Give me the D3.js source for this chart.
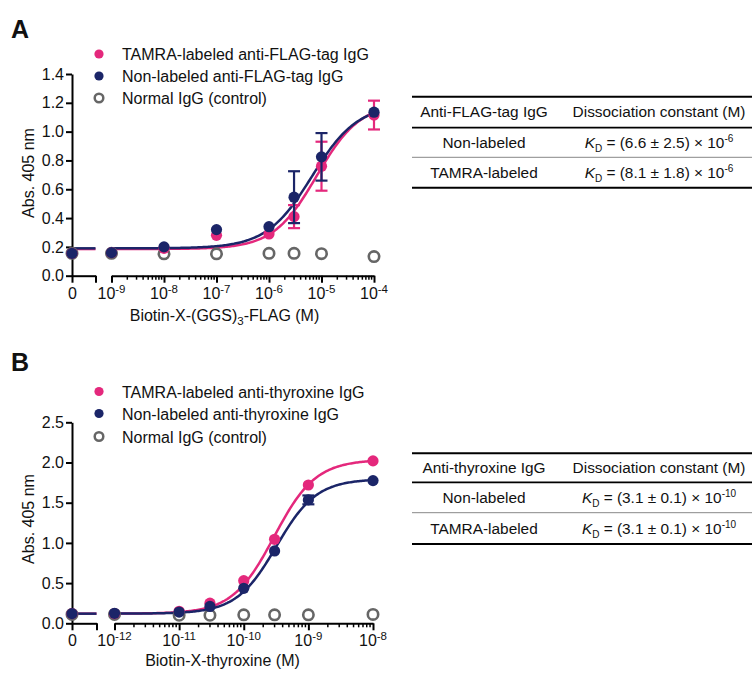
<!DOCTYPE html>
<html><head><meta charset="utf-8">
<script src="https://cdn.jsdelivr.net/npm/d3@7"></script>
<style>body{margin:0;background:#fff}svg{display:block}text{font-family:"Liberation Sans",Arial,sans-serif;fill:#111}</style>
</head><body><svg id="c" width="752" height="673"></svg>
<script>
// ---------- Panel A data ----------
const concA = [0, 1e-9, 1e-8, 1e-7, 1e-6, 3e-6, 1e-5, 1e-4];
const tamraA = [0.155, 0.16, 0.19, 0.28, 0.29, 0.41, 0.76, 1.115];
const tamraAErr = [0, 0, 0, 0, 0, 0.08, 0.17, 0.10];
const nonA = [0.155, 0.16, 0.20, 0.32, 0.34, 0.545, 0.825, 1.135];
const nonAErr = [0, 0, 0, 0, 0, 0.18, 0.165, 0];
const ctrlA = [0.155, 0.155, 0.152, 0.152, 0.155, 0.155, 0.153, 0.133];
// fitted curve parameters [bottom, top, EC50, hill]
const fitTamraA = [0.185, 1.20, 8.1e-6, 1.05];
const fitNonA = [0.19, 1.19, 6.6e-6, 1.0];
const yTicksA = [0, 0.2, 0.4, 0.6, 0.8, 1.0, 1.2, 1.4];
const expA = [-9, -8, -7, -6, -5, -4];
const legendA = ["TAMRA-labeled anti-FLAG-tag IgG", "Non-labeled anti-FLAG-tag IgG", "Normal IgG (control)"];
const tableA = [["Anti-FLAG-tag IgG", "Dissociation constant (M)"], ["Non-labeled", "6.6 ± 2.5", "-6"], ["TAMRA-labeled", "8.1 ± 1.8", "-6"]];

// ---------- Panel B data ----------
const concB = [0, 1e-12, 1e-11, 3e-11, 1e-10, 3e-10, 1e-9, 1e-8];
const tamraB = [0.12, 0.12, 0.15, 0.25, 0.53, 1.045, 1.72, 2.02];
const tamraBErr = [0, 0, 0, 0, 0, 0, 0, 0];
const nonB = [0.12, 0.124, 0.14, 0.21, 0.435, 0.90, 1.535, 1.775];
const nonBErr = [0, 0, 0, 0, 0, 0, 0.055, 0];
const ctrlB = [0.11, 0.11, 0.10, 0.10, 0.105, 0.105, 0.105, 0.11];
const fitTamraB = [0.12, 2.035, 2.95e-10, 1.35];
const fitNonB = [0.12, 1.795, 3.2e-10, 1.4];
const yTicksB = [0, 0.5, 1.0, 1.5, 2.0, 2.5];
const expB = [-12, -11, -10, -9, -8];
const legendB = ["TAMRA-labeled anti-thyroxine IgG", "Non-labeled anti-thyroxine IgG", "Normal IgG (control)"];
const tableB = [["Anti-thyroxine IgG", "Dissociation constant (M)"], ["Non-labeled", "3.1 ± 0.1", "-10"], ["TAMRA-labeled", "3.1 ± 0.1", "-10"]];

const PINK = "#E4287C", NAVY = "#1B2568", GRAY = "#666666";
const svg = d3.select("#c");

function hill(p, x) { return p[0] + (p[1] - p[0]) / (1 + Math.pow(p[2] / x, p[3])); }

function panel(o) {
  const g = svg.append("g");
  const y = d3.scaleLinear().domain(o.yDomain).range(o.yRange);
  const xl = d3.scaleLog().domain(o.logDomain).range(o.logRange);
  const xz = d3.scaleLinear().domain([0, 1]).range([o.x0, o.seg1End]);
  const xOf = c => c === 0 ? o.x0 : xl(c);
  const yb = o.yRange[0];

  const ya = g.append("g").attr("transform", `translate(${o.x0},0)`)
    .call(d3.axisLeft(y).tickValues(o.yTicks).tickFormat(d3.format(".1f")).tickSize(6).tickSizeOuter(0).tickPadding(2));
  const za = g.append("g").attr("transform", `translate(0,${yb})`)
    .call(d3.axisBottom(xz).tickValues([0, 1]).tickFormat(d => d === 0 ? "0" : "").tickSize(7).tickSizeOuter(0).tickPadding(4));
  const majors = o.exps.map(e => Math.pow(10, e));
  const la = g.append("g").attr("transform", `translate(0,${yb})`)
    .call(d3.axisBottom(xl).tickValues(majors).tickFormat("").tickSize(7).tickSizeOuter(0).tickPadding(4));
  const minors = [];
  o.exps.slice(0, -1).forEach(e => { for (let k = 2; k <= 9; k++) minors.push(k * Math.pow(10, e)); });
  la.selectAll(".minor").data(minors).enter().append("line").attr("class", "minor")
    .attr("x1", d => xl(d)).attr("x2", d => xl(d)).attr("y1", 0).attr("y2", 4)
    .attr("stroke", "#000").attr("stroke-width", 1.5);
  la.selectAll(".lab").data(majors).enter().append("text").attr("class", "lab")
    .attr("x", d => xl(d)).attr("y", 23).attr("text-anchor", "middle").style("font-size", "16px")
    .each(function (d, i) {
      const t = d3.select(this);
      t.append("tspan").text("10");
      t.append("tspan").attr("dy", "-6").style("font-size", "11.5px").text(String(o.exps[i]));
    });
  [ya, za, la].forEach(a => {
    a.selectAll("path.domain").attr("stroke", "#000").attr("stroke-width", 2);
    a.selectAll(".tick line").attr("stroke", "#000").attr("stroke-width", 2);
    a.selectAll(".tick text").style("font-size", "16px").attr("fill", "#111");
  });
  za.selectAll(".tick text").attr("dy", "0").attr("y", 23);

  g.append("text").attr("transform", `translate(${o.yTitleX},${o.yTitleY}) rotate(-90)`)
    .attr("text-anchor", "middle").attr("dy", "0.35em").style("font-size", "16px").text("Abs. 405 nm");
  const xt = g.append("text").attr("x", o.xTitleX).attr("y", o.xTitleY).attr("text-anchor", "middle").style("font-size", "16px");
  o.xTitle.forEach(s => { const ts = xt.append("tspan").text(s.t); if (s.sub) ts.attr("dy", 4).style("font-size", "11.5px"); if (s.back) ts.attr("dy", -4); });
  g.append("text").attr("x", 11).attr("y", o.labelY).style("font-size", "25px").style("font-weight", "bold").text(o.label);

  const line = d3.line().x(d => xl(d[0])).y(d => y(d[1]));
  [[o.fitT, PINK], [o.fitN, NAVY]].forEach(([p, col]) => {
    g.append("line").attr("x1", o.x0).attr("x2", o.seg1End).attr("y1", y(p[0])).attr("y2", y(p[0]))
      .attr("stroke", col).attr("stroke-width", 2.5);
    const lo = Math.log10(o.logDomain[0]), hi = Math.log10(o.logDomain[1]);
    const pts = d3.range(0, 201).map(i => { const c = Math.pow(10, lo + (hi - lo) * i / 200); return [c, hill(p, c)]; });
    g.append("path").attr("d", line(pts)).attr("fill", "none").attr("stroke", col).attr("stroke-width", 2.5);
  });

  g.selectAll(".ctrl").data(o.conc.map((c, i) => [c, o.ctrl[i]])).enter().append("circle")
    .attr("cx", d => xOf(d[0])).attr("cy", d => y(d[1])).attr("r", 5.2)
    .attr("fill", "#fff").attr("stroke", GRAY).attr("stroke-width", 2.6);
  [[o.tam, o.tamErr, PINK], [o.non, o.nonErr, NAVY]].forEach(([vals, errs, col]) => {
    const data = o.conc.map((c, i) => ({ c, v: vals[i], e: errs[i] }));
    const eg = g.append("g").attr("stroke", col).attr("stroke-width", 2.2);
    data.filter(d => d.e > 0).forEach(d => {
      const x = xOf(d.c);
      eg.append("line").attr("x1", x).attr("x2", x).attr("y1", y(d.v - d.e)).attr("y2", y(d.v + d.e));
      eg.append("line").attr("x1", x - 6).attr("x2", x + 6).attr("y1", y(d.v - d.e)).attr("y2", y(d.v - d.e));
      eg.append("line").attr("x1", x - 6).attr("x2", x + 6).attr("y1", y(d.v + d.e)).attr("y2", y(d.v + d.e));
    });
    g.append("g").selectAll("circle").data(data).enter().append("circle")
      .attr("cx", d => xOf(d.c)).attr("cy", d => y(d.v)).attr("r", 5.6).attr("fill", col);
  });

  const cols = [PINK, NAVY, null];
  o.legend.forEach((t, i) => {
    const ly = o.legY[i];
    if (cols[i]) g.append("circle").attr("cx", 99).attr("cy", ly).attr("r", 4.6).attr("fill", cols[i]);
    else g.append("circle").attr("cx", 99).attr("cy", ly).attr("r", 4.3).attr("fill", "#fff").attr("stroke", GRAY).attr("stroke-width", 2.5);
    g.append("text").attr("x", 122).attr("y", ly + 6).style("font-size", "16px").text(t);
  });

  const tb = svg.append("g");
  const tx0 = 412, tx1 = 752, c1 = 484, c2 = 659;
  const L = o.tLines;
  [[L[0], 2, "#000"], [L[1], 1.8, "#000"], [L[2], 1, "#888"], [L[3], 2, "#000"]].forEach(([yy, w, col]) =>
    tb.append("line").attr("x1", tx0).attr("x2", tx1).attr("y1", yy).attr("y2", yy).attr("stroke", col).attr("stroke-width", w));
  const rowsY = o.tText;
  o.table.forEach((r, i) => {
    tb.append("text").attr("x", c1).attr("y", rowsY[i] + 5.3).attr("text-anchor", "middle").style("font-size", "15.4px").text(r[0]);
    const t2 = tb.append("text").attr("x", c2).attr("y", rowsY[i] + 5.3).attr("text-anchor", "middle").style("font-size", "15.4px");
    if (i === 0) t2.text(r[1]);
    else {
      t2.append("tspan").style("font-style", "italic").text("K");
      t2.append("tspan").attr("dy", 4).style("font-size", "10px").text("D");
      t2.append("tspan").attr("dy", -4).text(` = (${r[1]}) × 10`);
      t2.append("tspan").attr("dy", -6).style("font-size", "10px").text(r[2]);
    }
  });
}

panel({
  label: "A", labelY: 38,
  yDomain: [0, 1.4], yRange: [275.7, 74], yTicks: yTicksA,
  logDomain: [1e-9, 1e-4], logRange: [111.5, 374], exps: expA,
  x0: 72, seg1End: 95.5,
  conc: concA, tam: tamraA, tamErr: tamraAErr, non: nonA, nonErr: nonAErr, ctrl: ctrlA,
  fitT: fitTamraA, fitN: fitNonA,
  yTitleX: 28, yTitleY: 173,
  xTitleX: 224.5, xTitleY: 321,
  xTitle: [{ t: "Biotin-X-(GGS)" }, { t: "3", sub: true }, { t: "-FLAG (M)", back: true }],
  legend: legendA, legY: [54, 76, 98],
  table: tableA, tLines: [96.7, 127.7, 157.3, 187.7], tText: [112, 142.5, 172.5]
});
panel({
  label: "B", labelY: 371,
  yDomain: [0, 2.5], yRange: [623.3, 422.3], yTicks: yTicksB,
  logDomain: [1e-12, 1e-8], logRange: [114.5, 373], exps: expB,
  x0: 72, seg1End: 96.5,
  conc: concB, tam: tamraB, tamErr: tamraBErr, non: nonB, nonErr: nonBErr, ctrl: ctrlB,
  fitT: fitTamraB, fitN: fitNonB,
  yTitleX: 28, yTitleY: 519,
  xTitleX: 222.5, xTitleY: 666,
  xTitle: [{ t: "Biotin-X-thyroxine (M)" }],
  legend: legendB, legY: [391.5, 413.5, 436.5],
  table: tableB, tLines: [453.3, 482.3, 512.7, 544], tText: [468, 498, 529]
});
</script></body></html>
